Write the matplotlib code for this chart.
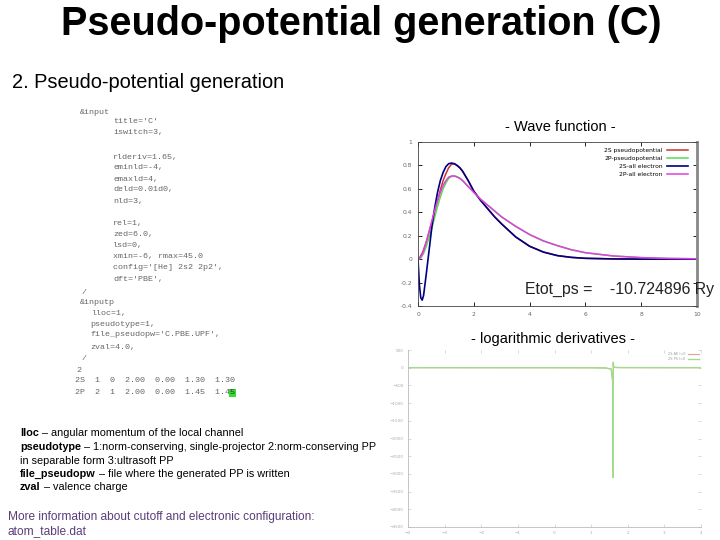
import matplotlib
matplotlib.use("Agg")
import matplotlib.pyplot as plt

W, H = 720, 540

# ---------------- data ----------------
r = [0.0, 0.05, 0.1, 0.15, 0.2, 0.3, 0.4, 0.5, 0.6, 0.7, 0.8, 0.9, 1.0, 1.1, 1.2,
     1.3, 1.4, 1.5, 1.6, 1.8, 2.0, 2.25, 2.5, 2.75, 3.0, 3.5, 4.0, 4.5, 5.0, 5.5,
     6.0, 7.0, 8.0, 9.0, 10.0]
psi_2s_ae = [0.0, -0.22, -0.33, -0.35, -0.31, -0.12, 0.08, 0.28, 0.44, 0.57, 0.67,
             0.74, 0.79, 0.815, 0.82, 0.815, 0.80, 0.78, 0.75, 0.67, 0.58, 0.50,
             0.43, 0.36, 0.30, 0.19, 0.11, 0.06, 0.03, 0.015, 0.007, 0.002, 0.0,
             0.0, 0.0]
psi_2s_ps = [0.0, 0.01, 0.03, 0.05, 0.08, 0.15, 0.23, 0.32, 0.41, 0.50, 0.59,
             0.67, 0.73, 0.78, 0.81, 0.815, 0.80, 0.78, 0.75, 0.67, 0.58, 0.50,
             0.43, 0.36, 0.30, 0.19, 0.11, 0.06, 0.03, 0.015, 0.007, 0.002, 0.0,
             0.0, 0.0]
psi_2p_ae = [0.0, 0.005, 0.02, 0.04, 0.07, 0.15, 0.24, 0.33, 0.42, 0.50, 0.57,
             0.63, 0.67, 0.70, 0.71, 0.71, 0.70, 0.69, 0.67, 0.62, 0.57, 0.51,
             0.46, 0.41, 0.36, 0.28, 0.21, 0.155, 0.115, 0.08, 0.055, 0.027,
             0.013, 0.006, 0.003]
psi_2p_ps = [0.0, 0.003, 0.01, 0.03, 0.05, 0.11, 0.19, 0.27, 0.36, 0.45, 0.53,
             0.60, 0.65, 0.69, 0.705, 0.71, 0.705, 0.69, 0.67, 0.62, 0.57, 0.51,
             0.46, 0.41, 0.36, 0.28, 0.21, 0.155, 0.115, 0.08, 0.055, 0.027,
             0.013, 0.006, 0.003]
wf_labels = ["2S pseudopotential", "2P-pseudopotential", "2S-all electron", "2P-all electron"]
wf_xticks = [0, 2, 4, 6, 8, 10]
wf_yticks = [-0.4, -0.2, 0, 0.2, 0.4, 0.6, 0.8, 1]
wf_yticklabels = ["-0.4", "-0.2", "0", "0.2", "0.4", "0.6", "0.8", "1"]

energy = [-4.0, -3.0, -2.0, -1.0, 0.0, 1.0, 1.4, 1.55, 1.59, 1.6, 1.605, 1.61,
          1.62, 1.65, 1.8, 2.5, 3.0, 4.0]
ld_ae = [1.0, 0.8, 0.5, 0.2, -0.3, -2.0, -8.0, -40.0, -400.0, -3100.0, 150.0,
         60.0, 20.0, 8.0, 3.0, 2.0, 1.5, 1.0]
ld_ps = [1.0, 0.8, 0.5, 0.2, -0.3, -2.0, -8.0, -40.0, -400.0, -3100.0, 150.0,
         60.0, 20.0, 8.0, 3.0, 2.0, 1.5, 1.0]
ld_labels = ["2S AE l=0", "2S PS l=0"]
ld_xticks = [-4, -3, -2, -1, 0, 1, 2, 3, 4]
ld_yticks = [500, 0, -500, -1000, -1500, -2000, -2500, -3000, -3500, -4000, -4500]

code_lines = [
    (80, 112, "&input"),
    (113, 122, "title='C'"),
    (113, 133, "iswitch=3,"),
    (113, 157, "rlderiv=1.65,"),
    (113, 168, "eminld=-4,"),
    (113, 179, "emaxld=4,"),
    (113, 190, "deld=0.01d0,"),
    (113, 202, "nld=3,"),
    (113, 223, "rel=1,"),
    (113, 235, "zed=6.0,"),
    (113, 245, "lsd=0,"),
    (113, 257, "xmin=-6, rmax=45.0"),
    (113, 268, "config='[He] 2s2 2p2',"),
    (113, 280, "dft='PBE',"),
    (82, 292, "/"),
    (80, 302, "&inputp"),
    (92, 313, "lloc=1,"),
    (90, 324, "pseudotype=1,"),
    (90, 335, "file_pseudopw='C.PBE.UPF',"),
    (90, 347, "zval=4.0,"),
    (82, 358, "/"),
    (76, 370, "2"),
    (75, 381, "2S  1  0  2.00  0.00  1.30  1.30"),
]
last_line_prefix = "2P  2  1  2.00  0.00  1.45  1.4"
last_line_char = "5"

desc_lines = [
    ("lloc", " \u2013 angular momentum of the local channel"),
    ("pseudotype", " \u2013 1:norm-conserving, single-projector 2:norm-conserving PP"),
    ("", "in separable form 3:ultrasoft PP"),
    ("file_pseudopw", " \u2013 file where the generated PP is written"),
    ("zval", " \u2013 valence charge"),
]

# ---------------- figure ----------------
fig = plt.figure(figsize=(7.2, 5.4), dpi=100)
fig.patch.set_facecolor("white")


def P(x, y):
    return x / W, 1 - y / H


fig.text(*P(361, 24), "Pseudo-potential generation (C)", ha="center", va="center",
         fontsize=28.5, fontweight="bold", family="Liberation Sans")
fig.text(*P(12, 82), "2. Pseudo-potential generation", ha="left", va="center",
         fontsize=14.4, family="Liberation Sans")

code_kw = dict(ha="left", va="center", fontsize=6.0, family="Liberation Mono",
               color="#666666")
for x, y, s in code_lines:
    fig.text(*P(x, y), s, **code_kw)

fig.canvas.draw()
renderer = fig.canvas.get_renderer()

t_last = fig.text(*P(75, 393), last_line_prefix, **code_kw)
bb = t_last.get_window_extent(renderer)
fig.text(*P(75 + bb.width, 393), last_line_char, ha="left", va="center",
         fontsize=6.0, family="Liberation Mono", color="#333333",
         bbox=dict(boxstyle="square,pad=0.1", fc="#33dd33", ec="none"))

y0 = 436.5
for i, (b, rtxt) in enumerate(desc_lines):
    yy = y0 + i * 13.5
    x = 20
    if b:
        t = fig.text(*P(x, yy), b, ha="left", va="baseline", fontsize=7.8,
                     fontweight="bold", family="Liberation Sans")
        bb = t.get_window_extent(renderer)
        x = x + bb.width
    fig.text(*P(x, yy), rtxt, ha="left", va="baseline", fontsize=7.8,
             family="Liberation Sans")

fig.text(*P(8, 517), "More information about cutoff and electronic configuration:",
         ha="left", va="center", fontsize=8.6, family="Liberation Sans", color="#5a3d7a")
fig.text(*P(8, 531), "atom_table.dat", ha="left", va="center", fontsize=8.6,
         family="Liberation Sans", color="#5a3d7a")

fig.text(*P(560, 127), "- Wave function -", ha="center", va="center",
         fontsize=10.5, family="Liberation Sans")
fig.text(*P(553, 339), "- logarithmic derivatives -", ha="center", va="center",
         fontsize=10.5, family="Liberation Sans")

# ---------------- wave function axes ----------------
ax = fig.add_axes([418 / W, 1 - 306 / H, (697 - 418) / W, (306 - 142) / H])
ax.plot(r, psi_2s_ps, color="#cc3333", lw=1.1, label=wf_labels[0])
ax.plot(r, psi_2p_ps, color="#55dd55", lw=1.1, label=wf_labels[1])
ax.plot(r, psi_2s_ae, color="#000080", lw=1.2, label=wf_labels[2])
ax.plot(r, psi_2p_ae, color="#e040e0", lw=1.1, label=wf_labels[3])
ax.set_xlim(0, 10)
ax.set_ylim(-0.4, 1)
ax.set_xticks(wf_xticks)
ax.set_yticks(wf_yticks)
ax.set_xticklabels([str(v) for v in wf_xticks])
ax.set_yticklabels(wf_yticklabels)
ax.tick_params(direction="in", length=3, width=0.6, labelsize=4.3,
               labelcolor="#666666", top=True, right=True, pad=4)
for s in ax.spines.values():
    s.set_linewidth(0.6)
    s.set_color("#444444")
ax.spines["right"].set_linewidth(2.0)
ax.spines["right"].set_color("#888888")
ax.legend(loc="upper right", fontsize=4.3, frameon=False, markerfirst=False,
          handlelength=3.5, labelspacing=0.45, borderaxespad=0.6,
          bbox_to_anchor=(0.99, 1.0))

fig.text(*P(525, 289), "Etot_ps =    -10.724896 Ry", ha="left", va="center",
         fontsize=11.4, family="Liberation Sans", color="#222222")

# ---------------- log derivative axes ----------------
ax2 = fig.add_axes([408 / W, 1 - 527 / H, (701 - 408) / W, (527 - 350) / H])
ax2.plot(energy, ld_ae, color="#e8a090", lw=0.8, label=ld_labels[0])
ax2.plot(energy, ld_ps, color="#a0dc8a", lw=1.0, label=ld_labels[1])
ax2.set_xlim(-4, 4)
ax2.set_ylim(-4500, 500)
ax2.set_xticks(ld_xticks)
ax2.set_yticks(ld_yticks)
ax2.tick_params(direction="in", length=2, width=0.4, labelsize=3,
                labelcolor="#aaaaaa", color="#bbbbbb", top=True, right=True, pad=3)
for name, s in ax2.spines.items():
    s.set_linewidth(0.6)
    s.set_color("#bbbbbb")
ax2.spines["top"].set_visible(False)
ax2.spines["right"].set_visible(False)
ax2.legend(loc="upper right", fontsize=2.5, frameon=False, markerfirst=False,
           handlelength=3, labelspacing=0.3, borderaxespad=0.3, labelcolor="#999999")

fig.savefig("out.png", dpi=100, facecolor="white")
